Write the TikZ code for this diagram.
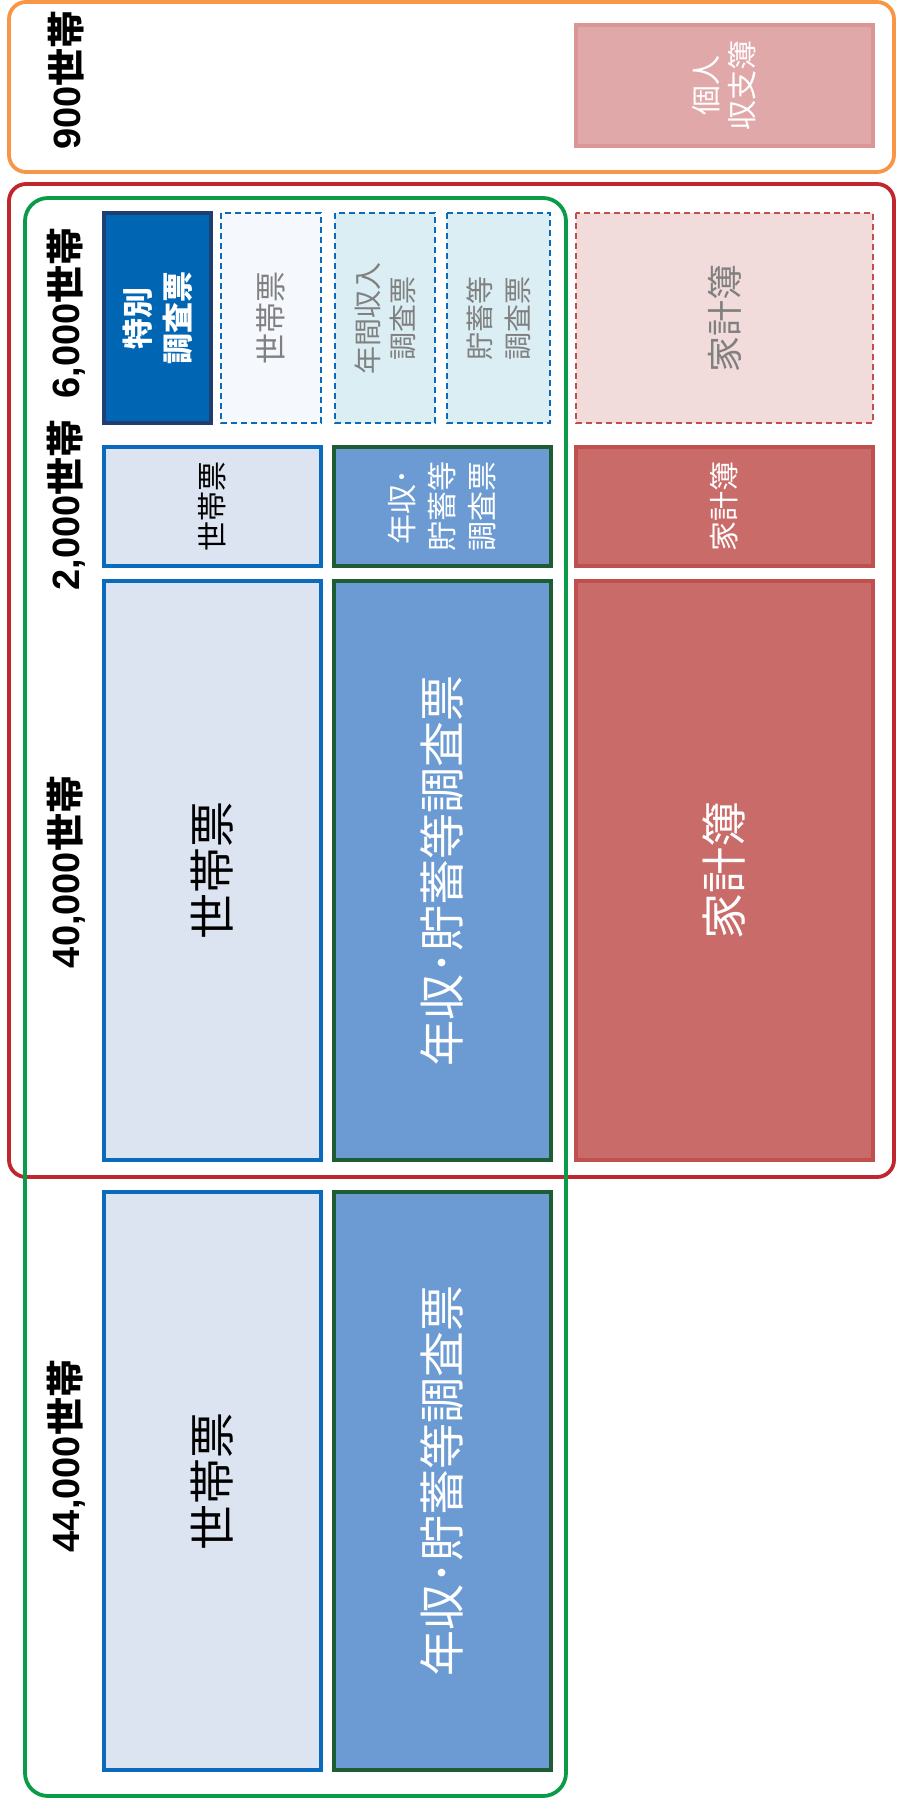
\documentclass[tikz,border=0pt]{standalone}
\usepackage{fontspec}
\setmainfont{Noto Sans CJK JP}
\newfontfamily\latfont{Liberation Sans}
\definecolor{orangec}{HTML}{F79646}
\definecolor{redc}{HTML}{C0262D}
\definecolor{greenc}{HTML}{0A9B48}
\definecolor{tokfill}{HTML}{0066B3}
\definecolor{tokline}{HTML}{1F3F73}
\definecolor{blueline}{HTML}{0A6BBD}
\definecolor{pale}{HTML}{F5F8FC}
\definecolor{aqua}{HTML}{DAEEF3}
\definecolor{setai}{HTML}{DCE3F1}
\definecolor{nenfill}{HTML}{6B9BD2}
\definecolor{nenline}{HTML}{1E5C34}
\definecolor{kakfill}{HTML}{C96B68}
\definecolor{kakline}{HTML}{C0504D}
\definecolor{kakpale}{HTML}{F2DCDB}
\definecolor{kojfill}{HTML}{E0A8A8}
\definecolor{kojline}{HTML}{D99694}
\definecolor{graytext}{HTML}{808080}
\newcommand{\numlab}[1]{{\latfont\bfseries #1}世帯}
\begin{document}
\begin{tikzpicture}[x=1pt,y=-1pt,
  base/.style={rectangle, inner sep=0pt, outer sep=0pt, align=center, rotate=90},
  solidbox/.style={base, line width=3.2pt},
  dashbox/.style={base, line width=1.8pt, dash pattern=on 6pt off 4pt},
  setaibox/.style={solidbox, draw=blueline, fill=setai, text=black},
  nenbox/.style={solidbox, draw=nenline, fill=nenfill, text=white},
  kakbox/.style={solidbox, draw=kakline, fill=kakfill, text=white},
  rowlabel/.style={rotate=90, inner sep=0pt, font=\bfseries\fontsize{38}{44}\selectfont, text=black},
  frame/.style={line width=3.8pt}
]
\useasboundingbox (0,0) rectangle (898,1805);
% outer frames
\draw[frame, draw=orangec, rounded corners=17pt] (9,2) rectangle (894,172);
\draw[frame, draw=redc, rounded corners=17pt] (9,184) rectangle (894,1177);
\draw[frame, draw=greenc, rounded corners=23pt] (25,198) rectangle (566,1796);
% row labels
\node[rowlabel] (l900) at (66,80) {\numlab{900}};
\node[rowlabel] (l6000) at (66,313) {\numlab{6,000}};
\node[rowlabel] (l2000) at (66,505) {\numlab{2,000}};
\node[rowlabel] (l40000) at (66,872) {\numlab{40,000}};
\node[rowlabel] (l44000) at (66,1456) {\numlab{44,000}};
% 900 row
\node[solidbox, draw=kojline, fill=kojfill, text=white, minimum width=121pt, minimum height=297pt,
  font=\fontsize{30}{36}\selectfont] (kojin) at (724.5,85.5) {個人\\収支簿};
% 6000 row
\node[solidbox, draw=tokline, fill=tokfill, text=white, minimum width=210pt, minimum height=107pt,
  font=\bfseries\fontsize{31}{40}\selectfont] (tokubetsu) at (157.5,318) {特別\\調査票};
\node[dashbox, draw=blueline, fill=pale, text=graytext, minimum width=210pt, minimum height=100pt,
  font=\fontsize{31}{40}\selectfont] (setaiD) at (271,318) {世帯票};
\node[dashbox, draw=blueline, fill=aqua, text=graytext, minimum width=210pt, minimum height=100pt,
  font=\fontsize{28}{35}\selectfont] (nenkan) at (385,318) {年間収入\\調査票};
\node[dashbox, draw=blueline, fill=aqua, text=graytext, minimum width=210pt, minimum height=103pt,
  font=\fontsize{28}{38}\selectfont] (chochiku) at (498.5,318) {貯蓄等\\調査票};
\node[dashbox, draw=kakline, fill=kakpale, text=graytext, minimum width=210pt, minimum height=297pt,
  font=\fontsize{36}{42}\selectfont] (kakeiD) at (724.5,318) {家計簿};
% 2000 row
\node[setaibox, minimum width=119pt, minimum height=217pt, font=\fontsize{30}{36}\selectfont]
  (setaiB) at (212.5,506.5) {世帯票};
\node[nenbox, minimum width=119pt, minimum height=217pt, font=\fontsize{30}{40}\selectfont]
  (nenB) at (442.5,506.5) {年収･\\貯蓄等\\調査票};
\node[kakbox, minimum width=119pt, minimum height=297pt, font=\fontsize{30}{36}\selectfont]
  (kakeiB) at (724.5,506.5) {家計簿};
% 40000 row
\node[setaibox, minimum width=579pt, minimum height=217pt, font=\fontsize{46}{52}\selectfont]
  (setaiC) at (212.5,870.5) {世帯票};
\node[nenbox, minimum width=579pt, minimum height=217pt, font=\fontsize{46}{52}\selectfont]
  (nenC) at (442.5,870.5) {年収･貯蓄等調査票};
\node[kakbox, minimum width=579pt, minimum height=297pt, font=\fontsize{46}{52}\selectfont]
  (kakeiC) at (724.5,870.5) {家計簿};
% 44000 row
\node[setaibox, minimum width=578pt, minimum height=217pt, font=\fontsize{46}{52}\selectfont]
  (setaiE) at (212.5,1481) {世帯票};
\node[nenbox, minimum width=578pt, minimum height=217pt, font=\fontsize{46}{52}\selectfont]
  (nenE) at (442.5,1481) {年収･貯蓄等調査票};
\end{tikzpicture}
\end{document}
